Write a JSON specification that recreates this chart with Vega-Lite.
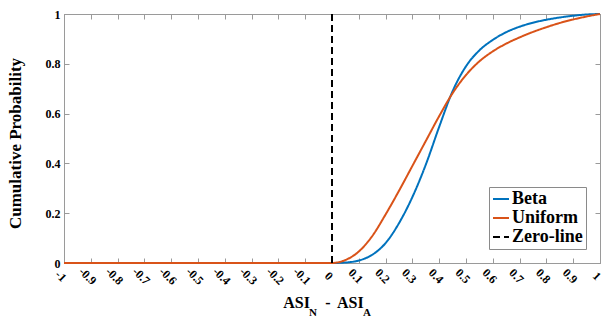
{
  "$schema": "https://vega.github.io/schema/vega-lite/v6.json",
  "width": 536,
  "height": 249,
  "autosize": {"type": "none"},
  "padding": {"left": 64, "top": 14, "right": 6, "bottom": 58},
  "config": {
    "view": {"stroke": "#9a9a9a", "strokeWidth": 1},
    "font": "Liberation Serif",
    "legend": {
      "orient": "bottom-right",
      "offset": 14,
      "padding": 3,
      "strokeColor": "#8a8a8a",
      "fillColor": "white",
      "cornerRadius": 0,
      "labelFont": "Liberation Serif",
      "labelFontWeight": "bold",
      "labelFontSize": 18,
      "labelColor": "#000000",
      "symbolType": "stroke",
      "symbolSize": 256,
      "symbolStrokeWidth": 2,
      "rowPadding": 1,
      "labelOffset": 2
    }
  },
  "layer": [
    {
      "data": {
        "values": [
          {"x": -1, "y": 0, "s": "Beta"},
          {"x": -0.5, "y": 0, "s": "Beta"},
          {"x": 0, "y": 0, "s": "Beta"},
          {"x": 0.05, "y": 0.002, "s": "Beta"},
          {"x": 0.1, "y": 0.01, "s": "Beta"},
          {"x": 0.15, "y": 0.033, "s": "Beta"},
          {"x": 0.2, "y": 0.08, "s": "Beta"},
          {"x": 0.25, "y": 0.16, "s": "Beta"},
          {"x": 0.3, "y": 0.265, "s": "Beta"},
          {"x": 0.35, "y": 0.395, "s": "Beta"},
          {"x": 0.4, "y": 0.547, "s": "Beta"},
          {"x": 0.45, "y": 0.69, "s": "Beta"},
          {"x": 0.5, "y": 0.79, "s": "Beta"},
          {"x": 0.55, "y": 0.854, "s": "Beta"},
          {"x": 0.6, "y": 0.896, "s": "Beta"},
          {"x": 0.65, "y": 0.927, "s": "Beta"},
          {"x": 0.7, "y": 0.949, "s": "Beta"},
          {"x": 0.75, "y": 0.965, "s": "Beta"},
          {"x": 0.8, "y": 0.977, "s": "Beta"},
          {"x": 0.85, "y": 0.986, "s": "Beta"},
          {"x": 0.9, "y": 0.993, "s": "Beta"},
          {"x": 0.95, "y": 0.998, "s": "Beta"},
          {"x": 1, "y": 1, "s": "Beta"},
          {"x": -1, "y": 0, "s": "Uniform"},
          {"x": -0.5, "y": 0, "s": "Uniform"},
          {"x": 0, "y": 0, "s": "Uniform"},
          {"x": 0.05, "y": 0.012, "s": "Uniform"},
          {"x": 0.1, "y": 0.046, "s": "Uniform"},
          {"x": 0.15, "y": 0.108, "s": "Uniform"},
          {"x": 0.2, "y": 0.195, "s": "Uniform"},
          {"x": 0.25, "y": 0.29, "s": "Uniform"},
          {"x": 0.3, "y": 0.39, "s": "Uniform"},
          {"x": 0.35, "y": 0.49, "s": "Uniform"},
          {"x": 0.4, "y": 0.59, "s": "Uniform"},
          {"x": 0.45, "y": 0.682, "s": "Uniform"},
          {"x": 0.5, "y": 0.755, "s": "Uniform"},
          {"x": 0.55, "y": 0.81, "s": "Uniform"},
          {"x": 0.6, "y": 0.85, "s": "Uniform"},
          {"x": 0.65, "y": 0.881, "s": "Uniform"},
          {"x": 0.7, "y": 0.906, "s": "Uniform"},
          {"x": 0.75, "y": 0.928, "s": "Uniform"},
          {"x": 0.8, "y": 0.947, "s": "Uniform"},
          {"x": 0.85, "y": 0.964, "s": "Uniform"},
          {"x": 0.9, "y": 0.978, "s": "Uniform"},
          {"x": 0.95, "y": 0.99, "s": "Uniform"},
          {"x": 1, "y": 1, "s": "Uniform"},
          {"x": 0, "y": 0, "s": "Zero-line"},
          {"x": 0, "y": 1, "s": "Zero-line"}
        ]
      },
      "mark": {"type": "line", "strokeWidth": 2, "interpolate": "monotone"},
      "encoding": {
        "x": {
          "field": "x",
          "type": "quantitative",
          "scale": {"domain": [-1, 1], "nice": false, "zero": false},
          "axis": {
            "orient": "bottom",
            "values": [-1, -0.9, -0.8, -0.7, -0.6, -0.5, -0.4, -0.3, -0.2, -0.1, 0, 0.1, 0.2, 0.3, 0.4, 0.5, 0.6, 0.7, 0.8, 0.9, 1],
            "labelExpr": "'' + datum.value",
            "labelAngle": 45,
            "labelAlign": "center",
            "labelBaseline": "top",
            "labelPadding": 14,
            "labelFlush": false,
            "labelOverlap": false,
            "tickSize": -5,
            "grid": false,
            "title": null,
            "domainColor": "#9a9a9a",
            "tickColor": "#9a9a9a",
            "labelFont": "Liberation Serif",
            "labelFontWeight": "bold",
            "labelFontSize": 12,
            "labelColor": "#000000"
          }
        },
        "y": {
          "field": "y",
          "type": "quantitative",
          "scale": {"domain": [0, 1], "nice": false},
          "axis": {
            "orient": "left",
            "values": [0, 0.2, 0.4, 0.6, 0.8, 1],
            "labelExpr": "'' + datum.value",
            "labelPadding": 9,
            "labelFlush": false,
            "tickSize": -5,
            "grid": false,
            "title": "Cumulative Probability",
            "titleFont": "Liberation Serif",
            "titleFontWeight": "bold",
            "titleFontSize": 17,
            "titleColor": "#000000",
            "titlePadding": 21,
            "titleY": 129,
            "domainColor": "#9a9a9a",
            "tickColor": "#9a9a9a",
            "labelFont": "Liberation Serif",
            "labelFontWeight": "bold",
            "labelFontSize": 12,
            "labelColor": "#000000"
          }
        },
        "color": {
          "field": "s",
          "type": "nominal",
          "scale": {"domain": ["Beta", "Uniform", "Zero-line"], "range": ["#0072BD", "#D95319", "#000000"]},
          "legend": {"title": null}
        },
        "strokeDash": {
          "field": "s",
          "type": "nominal",
          "scale": {"domain": ["Beta", "Uniform", "Zero-line"], "range": [[1, 0], [1, 0], [7, 4]]},
          "legend": {"title": null}
        }
      }
    },
    {
      "data": {"values": [{"x": -1, "y": 0}]},
      "mark": {"type": "point", "opacity": 0},
      "encoding": {
        "x": {
          "field": "x",
          "type": "quantitative",
          "axis": {
            "orient": "top",
            "values": [-1, -0.9, -0.8, -0.7, -0.6, -0.5, -0.4, -0.3, -0.2, -0.1, 0, 0.1, 0.2, 0.3, 0.4, 0.5, 0.6, 0.7, 0.8, 0.9, 1],
            "labels": false,
            "tickSize": -5,
            "grid": false,
            "title": null,
            "domainColor": "#9a9a9a",
            "tickColor": "#9a9a9a"
          }
        },
        "y": {
          "field": "y",
          "type": "quantitative",
          "axis": {
            "orient": "right",
            "values": [0, 0.2, 0.4, 0.6, 0.8, 1],
            "labels": false,
            "tickSize": -5,
            "grid": false,
            "title": null,
            "domainColor": "#9a9a9a",
            "tickColor": "#9a9a9a"
          }
        }
      }
    },
    {
      "data": {"values": [{"t": "ASI"}]},
      "mark": {"type": "text", "align": "right", "baseline": "alphabetic", "dx": -22, "dy": 45, "font": "Liberation Serif", "fontWeight": "bold", "fontSize": 16, "color": "#000000"},
      "encoding": {
        "x": {"datum": 0, "type": "quantitative", "axis": null},
        "y": {"datum": 0, "type": "quantitative", "axis": null},
        "text": {"field": "t"}
      }
    },
    {
      "data": {"values": [{"t": "N"}]},
      "mark": {"type": "text", "align": "left", "baseline": "alphabetic", "dx": -23, "dy": 53, "font": "Liberation Serif", "fontWeight": "bold", "fontSize": 11, "color": "#000000"},
      "encoding": {
        "x": {"datum": 0, "type": "quantitative", "axis": null},
        "y": {"datum": 0, "type": "quantitative", "axis": null},
        "text": {"field": "t"}
      }
    },
    {
      "data": {"values": [{"t": "-"}]},
      "mark": {"type": "text", "align": "center", "baseline": "alphabetic", "dx": -4, "dy": 45, "font": "Liberation Serif", "fontWeight": "bold", "fontSize": 16, "color": "#000000"},
      "encoding": {
        "x": {"datum": 0, "type": "quantitative", "axis": null},
        "y": {"datum": 0, "type": "quantitative", "axis": null},
        "text": {"field": "t"}
      }
    },
    {
      "data": {"values": [{"t": "ASI"}]},
      "mark": {"type": "text", "align": "left", "baseline": "alphabetic", "dx": 5, "dy": 45, "font": "Liberation Serif", "fontWeight": "bold", "fontSize": 16, "color": "#000000"},
      "encoding": {
        "x": {"datum": 0, "type": "quantitative", "axis": null},
        "y": {"datum": 0, "type": "quantitative", "axis": null},
        "text": {"field": "t"}
      }
    },
    {
      "data": {"values": [{"t": "A"}]},
      "mark": {"type": "text", "align": "left", "baseline": "alphabetic", "dx": 31, "dy": 53, "font": "Liberation Serif", "fontWeight": "bold", "fontSize": 11, "color": "#000000"},
      "encoding": {
        "x": {"datum": 0, "type": "quantitative", "axis": null},
        "y": {"datum": 0, "type": "quantitative", "axis": null},
        "text": {"field": "t"}
      }
    }
  ],
  "resolve": {"axis": {"x": "independent", "y": "independent"}}
}
